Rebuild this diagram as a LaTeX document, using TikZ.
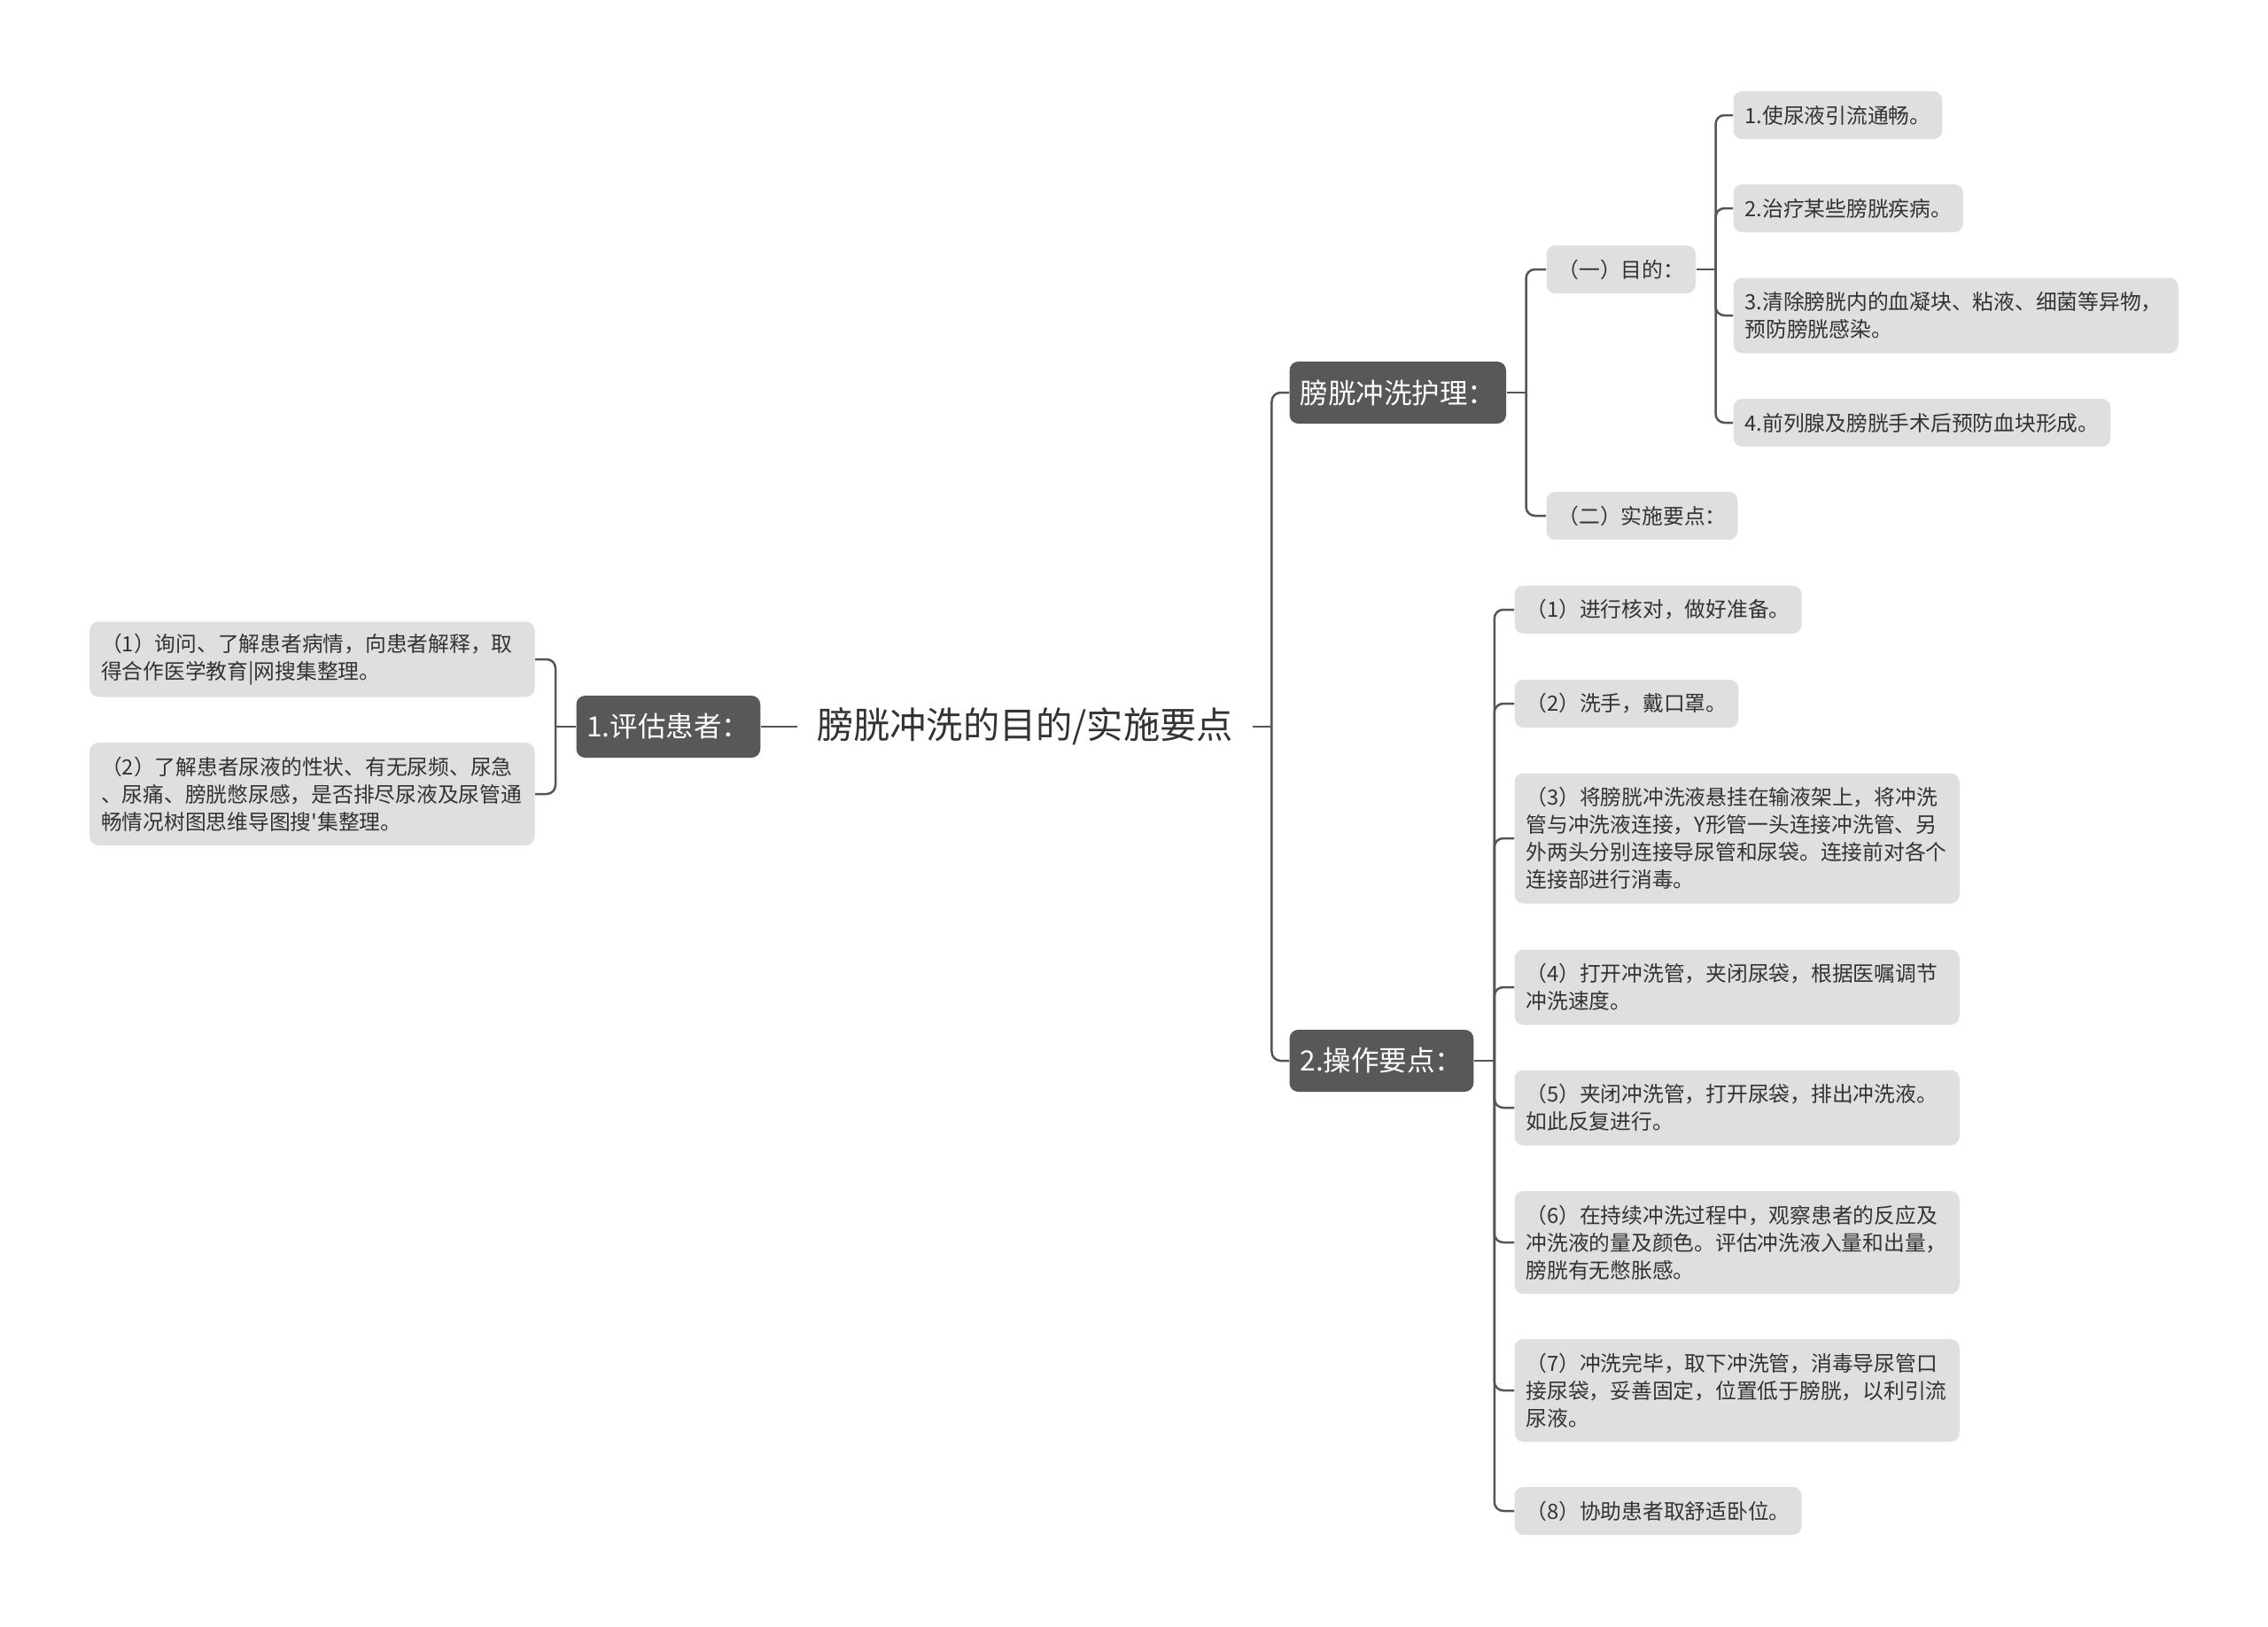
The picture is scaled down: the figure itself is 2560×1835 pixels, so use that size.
\documentclass[tikz,border=0pt]{standalone}
\usepackage{fontspec}
\setmainfont{Noto Sans CJK SC}
\definecolor{topicgray}{HTML}{585858}
\definecolor{leafgray}{HTML}{DFDFDF}
\definecolor{linegray}{HTML}{555555}
\definecolor{inkgray}{HTML}{333333}

\begin{document}
\begin{tikzpicture}[x=0.4pt, y=-0.4pt,
    root/.style={inner xsep=8.8pt, text=inkgray, font=\fontsize{16.5}{20}\selectfont},
    topic/.style={fill=topicgray, text=white, rounded corners=4pt, inner xsep=4.8pt, minimum height=28pt, font=\fontsize{12.6}{15}\selectfont},
    leaf/.style={fill=leafgray, text=inkgray, rounded corners=4pt, inner xsep=5.2pt, align=left, minimum height=21.6pt, font=\fontsize{9.5}{12.4}\selectfont},
    para/.style={leaf, text width=190.5pt, minimum height=#1*12.4pt+9.2pt},
    link/.style={draw=linegray, line width=1pt, rounded corners=4pt}
]
\useasboundingbox (0,0) rectangle (2560,1835);

\node[root] (root) at (1157,820) {膀胱冲洗的目的/实施要点};

\node[topic, anchor=west] (ev) at (650,820) {1.评估患者：};
\node[para=2, anchor=east] (a1) at (604,744) {（1）询问、了解患者病情，向患者解释，取\\得合作医学教育|网搜集整理。};
\node[para=3, anchor=east] (a2) at (604,896) {（2）了解患者尿液的性状、有无尿频、尿急\\、尿痛、膀胱憋尿感，是否排尽尿液及尿管通\\畅情况树图思维导图搜\textquotesingle 集整理。};

\node[topic, anchor=west] (care) at (1455,443) {膀胱冲洗护理：};
\node[leaf, anchor=west] (aim) at (1745,304) {（一）目的：};
\node[leaf, anchor=west] (how) at (1745,582) {（二）实施要点：};
\node[leaf, anchor=west] (g1) at (1956,130) {1.使尿液引流通畅。};
\node[leaf, anchor=west] (g2) at (1956,235) {2.治疗某些膀胱疾病。};
\node[para=2, anchor=west] (g3) at (1956,356) {3.清除膀胱内的血凝块、粘液、细菌等异物，\\预防膀胱感染。};
\node[leaf, anchor=west] (g4) at (1956,477) {4.前列腺及膀胱手术后预防血块形成。};

\node[topic, anchor=west] (ops) at (1455,1197) {2.操作要点：};
\node[leaf, anchor=west] (s1) at (1709,688) {（1）进行核对，做好准备。};
\node[leaf, anchor=west] (s2) at (1709,794) {（2）洗手，戴口罩。};
\node[para=4, anchor=west] (s3) at (1709,946) {（3）将膀胱冲洗液悬挂在输液架上，将冲洗\\管与冲洗液连接，Y形管一头连接冲洗管、另\\外两头分别连接导尿管和尿袋。连接前对各个\\连接部进行消毒。};
\node[para=2, anchor=west] (s4) at (1709,1114) {（4）打开冲洗管，夹闭尿袋，根据医嘱调节\\冲洗速度。};
\node[para=2, anchor=west] (s5) at (1709,1250) {（5）夹闭冲洗管，打开尿袋，排出冲洗液。\\如此反复进行。};
\node[para=3, anchor=west] (s6) at (1709,1402) {（6）在持续冲洗过程中，观察患者的反应及\\冲洗液的量及颜色。评估冲洗液入量和出量，\\膀胱有无憋胀感。};
\node[para=3, anchor=west] (s7) at (1709,1569) {（7）冲洗完毕，取下冲洗管，消毒导尿管口\\接尿袋，妥善固定，位置低于膀胱，以利引流\\尿液。};
\node[leaf, anchor=west] (s8) at (1709,1705) {（8）协助患者取舒适卧位。};

\draw[link] (ev.east) -- (root.west);
\draw[link] (ev.west) -- ++(-23,0) coordinate (evj);
\draw[link] (evj) |- (a1.east);
\draw[link] (evj) |- (a2.east);

\draw[link] (root.east) -- ++(21,0) coordinate (rootj);
\draw[link] (rootj) |- (care.west);
\draw[link] (rootj) |- (ops.west);

\draw[link] (care.east) -- ++(22,0) coordinate (carej);
\draw[link] (carej) |- (aim.west);
\draw[link] (carej) |- (how.west);

\draw[link] (aim.east) -- ++(22,0) coordinate (aimj);
\foreach \i in {1,...,4} \draw[link] (aimj) |- (g\i.west);

\draw[link] (ops.east) -- ++(23,0) coordinate (opsj);
\foreach \i in {1,...,8} \draw[link] (opsj) |- (s\i.west);
\end{tikzpicture}
\end{document}
